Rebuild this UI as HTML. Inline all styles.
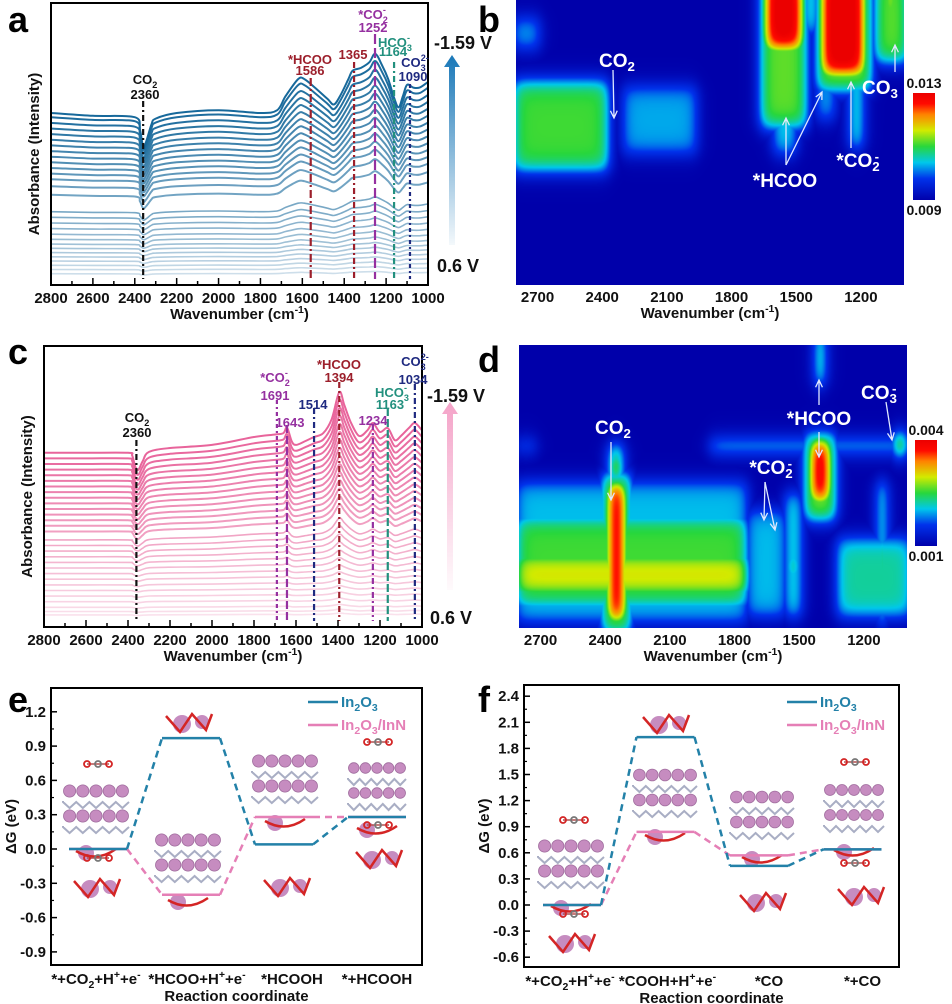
<!DOCTYPE html>
<html><head><meta charset="utf-8">
<style>
html,body{margin:0;padding:0;background:#fff;}
#wrap{position:relative;width:952px;height:1004px;overflow:hidden;font-family:"Liberation Sans",Arial,sans-serif;}
canvas{position:absolute;}
#fig{position:absolute;left:0;top:0;}
</style></head>
<body>
<div id="wrap">
<canvas id="hb" width="388" height="285" style="left:516px;top:0px"></canvas>
<canvas id="hd" width="388" height="283" style="left:519px;top:345px"></canvas>
<svg id="fig" width="952" height="1004" xmlns="http://www.w3.org/2000/svg" font-family="Liberation Sans, Arial, sans-serif" font-weight="bold"></svg>
</div>
<script>
// ---------- DATA ----------
const wnA=[2800,2600,2400,2375,2360,2345,2320,2300,2200,2000,1800,1720,1680,1620,1590,1540,1480,1450,1420,1380,1360,1320,1280,1252,1220,1190,1160,1140,1120,1100,1070,1040,1000];
const shapeA=[0,-1,-1.5,-6,-12,-10,-4,-2,0,1,0,1,6,12,12,9,5,3,6,12,15,16,18,21,17,12,5,2,6,10,9,9,11];
const offsetsA=[61,59.5,57.5,55.5,53.5,51.5,49.5,47.5,45.5,43.5,41.5,39.5,37.5,35,32,26,24,22,20,18,16.2,14.5,13,11.5,10,8.5,7,5.5,4];
const ampsA=[1,.95,.9,.86,.82,.78,.74,.7,.66,.62,.58,.54,.5,.46,.4,.25,.22,.2,.18,.16,.14,.12,.1,.09,.08,.07,.06,.05,.04];
const peakWnA=[2360,1560,1353,1253,1162,1086];
const wnC=[2800,2600,2400,2380,2365,2350,2330,2300,2200,2000,1800,1700,1660,1643,1620,1600,1560,1514,1470,1430,1394,1370,1340,1300,1260,1234,1200,1163,1130,1100,1060,1034,1000];
const shapeC=[0,0,0,-1,-5,-6,-3,0.3,1.7,2.8,5.6,6.5,7,9,4,2.8,4,5.6,7,12,21.6,17,11,6,8,10.6,7.4,8.8,4.5,6,9,10.6,8];
const offsetsC=[62,60,58,56,54,52,50,48,46,44,42,40,38,36,34,31,29,27,25,23,21,19,17,15,13,11,9,7,5.5,4.3];
const ampsC=[1,.96,.92,.88,.84,.8,.76,.72,.68,.64,.6,.56,.52,.48,.44,.36,.32,.28,.24,.2,.17,.14,.12,.1,.08,.07,.06,.05,.04,.03];
const peakWnC=[2360,1691,1643,1514,1394,1234,1163,1034];
// Heatmap features: [wnHigh, wnLow, rowTop, rowBottom, value]
const featB=[[2820,2370,.28,.6,.52],[2820,2690,.06,.17,.33],[2310,1960,.3,.54,.32],[1670,1450,-.1,.45,.55],[1650,1470,-.1,.18,1.05],[1610,1500,-.1,.54,.38],[1470,1400,-.1,.12,.45],[1410,1150,-.1,.32,.58],[1390,1180,-.1,.27,1.05],[1255,1190,-.1,.52,.45],[1410,1320,.25,.42,.34],[1140,980,-.1,.22,.55],[1100,1030,-.1,.08,.75]];
const featD=[[2820,1740,.48,.98,.34],[2820,1740,.6,.93,.52],[2820,1740,.73,.89,.68],[1750,1560,.58,.96,.34],[1570,1490,.52,.96,.42],[1560,1500,.72,.84,.58],[1330,980,.68,.96,.42],[2420,2280,.45,1.02,.58],[2395,2305,.48,.98,1.05],[2385,2320,.35,.51,.58],[2375,2330,.38,.48,.9],[1920,980,.335,.375,.45],[2820,2720,.335,.375,.32],[1480,1330,.31,.62,.58],[1455,1355,.33,.56,1.05],[1425,1385,-.05,.14,.58],[1415,1395,0,.09,.9],[1140,1095,.48,.99,.48],[1128,1105,.68,.87,1.0],[1065,1005,.31,.39,.75]];
const catsE=["*+CO2+H++e-","*HCOO+H++e-","*HCOOH","*+HCOOH"];
const In2O3E=[0.0,0.97,0.04,0.28];
const InNE=[0.0,-0.40,0.28,0.28];
const catsF=["*+CO2+H++e-","*COOH+H++e-","*CO","*+CO"];
const In2O3F=[0.0,1.93,0.45,0.64];
const InNF=[0.0,0.84,0.57,0.64];
const ticksE=[1.2,0.9,0.6,0.3,0.0,-0.3,-0.6,-0.9];
const ticksF=[2.4,2.1,1.8,1.5,1.2,0.9,0.6,0.3,0.0,-0.3,-0.6];
const ticksSpec=[2800,2600,2400,2200,2000,1800,1600,1400,1200,1000];
const ticksHeat=[2700,2400,2100,1800,1500,1200];

// ---------- HELPERS ----------
const NS='http://www.w3.org/2000/svg';
const root=document.getElementById('fig');
function mk(tag,attrs,parent){const e=document.createElementNS(NS,tag);for(const k in attrs)e.setAttribute(k,attrs[k]);(parent||root).appendChild(e);return e;}
function tx(html,attrs,parent){const e=mk('text',attrs,parent);e.innerHTML=html;return e;}
function sub(s){return '<tspan dy="4" font-size="0.7em">'+s+'</tspan><tspan dy="-4">\u200b</tspan>';}
function sup(s){return '<tspan dy="-6" font-size="0.7em">'+s+'</tspan><tspan dy="6">\u200b</tspan>';}
function subsup(a,b){return '<tspan dy="4" font-size="0.7em">'+a+'</tspan><tspan dy="-10" dx="-5" font-size="0.7em">'+b+'</tspan><tspan dy="6">\u200b</tspan>';}
function lerpCol(c1,c2,t){return 'rgb('+c1.map((v,i)=>Math.round(v+(c2[i]-v)*t)).join(',')+')';}
function smoothPath(pts){let d='M'+pts[0][0].toFixed(1)+','+pts[0][1].toFixed(1);for(let i=0;i<pts.length-1;i++){const p0=pts[Math.max(0,i-1)],p1=pts[i],p2=pts[i+1],p3=pts[Math.min(pts.length-1,i+2)];const c1=[p1[0]+(p2[0]-p0[0])/6,p1[1]+(p2[1]-p0[1])/6],c2=[p2[0]-(p3[0]-p1[0])/6,p2[1]-(p3[1]-p1[1])/6];d+='C'+c1[0].toFixed(1)+','+c1[1].toFixed(1)+' '+c2[0].toFixed(1)+','+c2[1].toFixed(1)+' '+p2[0].toFixed(1)+','+p2[1].toFixed(1);}return d;}

[['a',8,32],['b',478,32],['c',8,364],['d',478,372],['e',8,712],['f',478,712]].forEach(p=>{
  const t=tx(p[0],{x:p[1],y:p[2],'font-size':36,fill:'#000'});
  
  
});

// ---------- SPECTRA ----------
function drawSpec(c){
  const g=mk('g',{});
  
  
  const X=wn=>c.x0+(2800-wn)/1800*(c.x1-c.x0);
  const Y=v=>c.y1-v/100*(c.y1-c.y0);
  const N=c.offsets.length;
  for(let k=N-1;k>=0;k--){
    const pts=c.wn.map((w,i)=>[X(w),Y(c.offsets[k]+c.amps[k]*c.shape[i])]);
    const p=mk('path',{d:smoothPath(pts),fill:'none',stroke:lerpCol(c.top,c.bot,k/(N-1)),'stroke-width':k<15?2:1.6},g);
    
    
  }
  c.peaks.forEach((w,i)=>{
    const l=mk('line',{x1:X(w),x2:X(w),y1:c.peakTop[i],y2:c.y1-6,stroke:c.peakCol[i],'stroke-width':2.2,'stroke-dasharray':c.peakDash[i]},g);
    
    
  });
  const fr=mk('rect',{x:c.x0,y:c.y0,width:c.x1-c.x0,height:c.y1-c.y0,fill:'none',stroke:'#000','stroke-width':2},g);
  
  
  for(let w=2800;w>=1000;w-=100){
    const t=mk('line',{x1:X(w),x2:X(w),y1:c.y1,y2:c.y1-(w%200==0?7:4),stroke:'#000','stroke-width':1.5},g);
    
    
  }
  ticksSpec.forEach(w=>{
    const t=tx(String(w),{x:X(w),y:c.y1+18,'text-anchor':'middle','font-size':15,fill:'#111'},g);
    
    
  });
  const xt=tx('Wavenumber (cm'+sup('-1')+')',{x:(c.x0+c.x1)/2,y:c.y1+34,'text-anchor':'middle','font-size':15,fill:'#111'},g);
  
  
  const yt=tx('Absorbance (Intensity)',{x:0,y:0,'text-anchor':'middle','font-size':15,fill:'#111',transform:'translate('+(c.x0-12)+','+((c.y0+c.y1)/2+10)+') rotate(-90)'},g);
  
  
  c.labels.forEach(L=>{
    const t=tx(L[0],{x:L[1],y:L[2],'text-anchor':'middle','font-size':13,fill:L[3]},g);
    
    
  });
  const gid='ar'+c.name;
  const df=mk('defs',{},g);
  const lg=mk('linearGradient',{id:gid,x1:0,y1:1,x2:0,y2:0},df);
  mk('stop',{offset:0,'stop-color':c.arrow,'stop-opacity':0.05},lg);
  mk('stop',{offset:1,'stop-color':c.arrow,'stop-opacity':1},lg);
  const ar=mk('path',{d:'M'+(c.ax-3)+','+c.ay1+'L'+(c.ax-3)+','+(c.ay0+12)+'L'+(c.ax-8)+','+(c.ay0+12)+'L'+c.ax+','+c.ay0+'L'+(c.ax+8)+','+(c.ay0+12)+'L'+(c.ax+3)+','+(c.ay0+12)+'L'+(c.ax+3)+','+c.ay1+'Z',fill:'url(#'+gid+')'},g);
  
  
  const v1=tx('-1.59 V',{x:c.vx,y:c.vy0,'font-size':18,fill:'#111'},g);
  
  
  const v2=tx('0.6 V',{x:c.vx+3,y:c.vy1,'font-size':18,fill:'#111'},g);
  
  
}
const red='#9c1f2b',pur='#9530a0',teal='#22907e',navy='#1f2a80';
drawSpec({name:'panel-a',x0:51,x1:428,y0:3,y1:285,wn:wnA,shape:shapeA,offsets:offsetsA,amps:ampsA,top:[23,105,155],bot:[205,222,234],
 peaks:peakWnA,peakTop:[101,78,62,34,62,84],peakCol:['#111',red,red,pur,teal,navy],peakDash:['6,3,2,3','8,3,2,3','6,3,2,3','10,4','6,3,2,3','4,3,2,3'],
 labels:[['CO'+sub('2'),145,84,'#111'],['2360',145,99,'#111'],['*HCOO',310,64,red],['1586',310,75,red],['1365',353,59,red],['*CO'+subsup('2','-'),373,19,pur],['1252',373,32,pur],['HCO'+subsup('3','-'),395,47,teal],['1164',393,56,teal],['CO'+subsup('3','2-'),415,67,navy],['1090',413,81,navy]],
 arrow:'#1a78b8',ax:452,ay0:55,ay1:245,vx:434,vy0:49,vy1:272});
drawSpec({name:'panel-c',x0:44,x1:422,y0:346,y1:627,wn:wnC,shape:shapeC,offsets:offsetsC,amps:ampsC,top:[232,100,155],bot:[250,225,236],
 peaks:peakWnC,peakTop:[440,400,425,408,382,424,408,384],peakCol:['#111',pur,pur,navy,red,pur,teal,navy],peakDash:['6,3,2,3','4,3,2,3','8,3','6,3,2,3','6,3,2,3','6,3,2,3','8,3','6,3,2,3'],
 labels:[['CO'+sub('2'),137,422,'#111'],['2360',137,437,'#111'],['*CO'+subsup('2','-'),275,382,pur],['1691',275,400,pur],['1643',290,427,pur],['1514',313,409,navy],['*HCOO',339,369,red],['1394',339,382,red],['1234',373,425,pur],['HCO'+subsup('3','-'),392,397,teal],['1163',390,409,teal],['CO'+subsup('3','2-'),415,366,navy],['1034',413,384,navy]],
 arrow:'#f4a3c8',ax:450,ay0:402,ay1:590,vx:427,vy0:402,vy1:624});

// ---------- HEATMAPS ----------
const cmStops=[[0,[0,0,170]],[.2,[0,50,235]],[.35,[0,200,235]],[.5,[40,215,60]],[.65,[210,235,0]],[.8,[255,130,0]],[.9,[255,10,0]],[1,[235,0,0]]];
function cmap(t){t=Math.max(0,Math.min(1,t));for(let i=1;i<cmStops.length;i++){if(t<=cmStops[i][0]){const a=cmStops[i-1],b=cmStops[i],f=(t-a[0])/(b[0]-a[0]);return a[1].map((v,j)=>v+(b[1][j]-v)*f);}}return cmStops[cmStops.length-1][1];}
function sig(z){return 1/(1+Math.exp(-z));}
function drawHeat(id,feat){
  const cv=document.getElementById(id),ctx=cv.getContext('2d'),W=cv.width,H=cv.height;
  const img=ctx.createImageData(W,H);
  const WN=x=>2800-x/W*1800;
  for(let y=0;y<H;y++){const r=y/H;for(let x=0;x<W;x++){const w=WN(x);let v=0;
    for(const f of feat){const s=f[4]*sig((f[0]-w)/18)*sig((w-f[1])/18)*sig((r-f[2])/0.02)*sig((f[3]-r)/0.02);if(s>v)v=s;}
    const c=cmap(v),i=(y*W+x)*4;img.data[i]=c[0];img.data[i+1]=c[1];img.data[i+2]=c[2];img.data[i+3]=255;}}
  ctx.putImageData(img,0,0);
}
drawHeat('hb',featB);drawHeat('hd',featD);
function heatAxes(c){
  const g=mk('g',{});
  
  
  const X=wn=>c.x0+(2800-wn)/1800*(c.x1-c.x0);
  ticksHeat.forEach(w=>{
    const t=tx(String(w),{x:X(w),y:c.y1+17,'text-anchor':'middle','font-size':15,fill:'#111'},g);
    
    
  });
  const xt=tx('Wavenumber (cm'+sup('-1')+')',{x:(c.x0+c.x1)/2,y:c.y1+33,'text-anchor':'middle','font-size':15,fill:'#111'},g);
  
  
  const df=mk('defs',{},g);
  const lg=mk('linearGradient',{id:'cb'+c.name,x1:0,y1:1,x2:0,y2:0},df);
  cmStops.forEach(s=>mk('stop',{offset:s[0],'stop-color':'rgb('+s[1].join(',')+')'},lg));
  const cb=mk('rect',{x:c.cbx,y:c.cby0,width:22,height:c.cby1-c.cby0,fill:'url(#cb'+c.name+')'},g);
  
  
  const t1=tx(c.cbHi,{x:c.cbx+11,y:c.cby0-5,'text-anchor':'middle','font-size':14,fill:'#111'},g);
  
  
  const t2=tx(c.cbLo,{x:c.cbx+11,y:c.cby1+15,'text-anchor':'middle','font-size':14,fill:'#111'},g);
  
  
  c.labels.forEach(L=>{
    const t=tx(L[0],{x:L[1],y:L[2],'text-anchor':'middle','font-size':19,fill:'#fff'},g);
    
    
  });
  c.arrows.forEach(A=>{
    const ang=Math.atan2(A[3]-A[1],A[2]-A[0]);
    const hx=A[2],hy=A[3],a1=ang+2.7,a2=ang-2.7;
    const p=mk('path',{d:'M'+A[0]+','+A[1]+'L'+hx+','+hy+'M'+(hx+8*Math.cos(a1))+','+(hy+8*Math.sin(a1))+'L'+hx+','+hy+'L'+(hx+8*Math.cos(a2))+','+(hy+8*Math.sin(a2)),stroke:'#dfe8ff','stroke-width':1.3,fill:'none'},g);
    
    
  });
}
heatAxes({name:'panel-b',x0:516,x1:904,y1:285,cbx:913,cby0:93,cby1:200,cbHi:'0.013',cbLo:'0.009',
 labels:[['CO'+sub('2'),617,67],['*HCOO',785,187],['*CO'+subsup('2','-'),858,167],['CO'+sub('3'),880,94]],
 arrows:[[613,70,614,118],[786,165,786,118],[786,165,822,92],[851,148,851,82],[895,72,895,45]]});
heatAxes({name:'panel-d',x0:519,x1:907,y1:628,cbx:915,cby0:440,cby1:546,cbHi:'0.004',cbLo:'0.001',
 labels:[['CO'+sub('2'),613,434],['*CO'+subsup('2','-'),771,474],['*HCOO',819,425],['CO'+subsup('3','-'),879,399]],
 arrows:[[611,442,611,500],[765,482,764,520],[765,482,775,530],[819,405,819,380],[819,432,819,457],[886,402,892,440]]});

// ---------- ENERGY DIAGRAMS ----------
function slab(g,cx,yt,w){
  const n=5,r=w/(2*n)-0.5;
  for(let row=0;row<2;row++){
    const yy=yt+row*25;
    const m=mk('path',{d:'M'+(cx-w/2)+','+(yy+10)+' '+Array.from({length:n*2+1},(_,i)=>'L'+(cx-w/2+i*w/(2*n))+','+(yy+(i%2?17:11))).join(' '),stroke:'#a9aec4','stroke-width':2,fill:'none'},g);
    
    
    for(let i=0;i<n;i++){
      const c=mk('circle',{cx:cx-w/2+r+0.5+i*(2*r+1),cy:yy,r:r,fill:'#c68cc0',stroke:'#a06d9e','stroke-width':0.8},g);
      
      
    }
  }
  const b=mk('circle',{cx:cx-10,cy:yt+62,r:8,fill:'#c68cc0'},g);
  
  
  const rd=mk('path',{d:'M'+(cx-20)+','+(yt+60)+'Q'+cx+','+(yt+72)+' '+(cx+20)+','+(yt+58),stroke:'#d42525','stroke-width':2.5,fill:'none'},g);
  
  
}
function cluster(g,cx,cy){
  const a=mk('circle',{cx:cx-6,cy:cy,r:9,fill:'#c68cc0'},g);
  
  
  const b=mk('circle',{cx:cx+14,cy:cy-2,r:7,fill:'#c68cc0'},g);
  
  
  const rd=mk('path',{d:'M'+(cx-22)+','+(cy-8)+'L'+(cx-8)+','+(cy+8)+'L'+(cx+4)+','+(cy-10)+'L'+(cx+18)+','+(cy+6)+'L'+(cx+24)+','+(cy-10),stroke:'#d42525','stroke-width':2.5,fill:'none'},g);
  
  
}
function mol(g,cx,cy){
  const l=mk('line',{x1:cx-11,x2:cx+11,y1:cy,y2:cy,stroke:'#b05050','stroke-width':1.5},g);
  
  
  [[-11,'#d42525'],[0,'#777'],[11,'#d42525']].forEach(p=>{
    const c=mk('circle',{cx:cx+p[0],cy:cy,r:3,fill:'none',stroke:p[1],'stroke-width':1.8},g);
    
    
  });
}
function drawEnergy(c){
  const g=mk('g',{});
  
  
  const X=i=>c.cx0+i*c.dx;
  const Y=v=>c.yz-v/0.3*c.dy;
  c.slabs.forEach(s=>slab(g,s[0],s[1],s[2]));
  c.clusters.forEach(s=>cluster(g,s[0],s[1]));
  c.mols.forEach(s=>mol(g,s[0],s[1]));
  [[c.s2,'#e57fb6','In2O3/InN'],[c.s1,'#2381a8','In2O3']].forEach(S=>{
    const vals=S[0];
    vals.forEach((v,i)=>{
      const l=mk('line',{x1:X(i)-c.hw,x2:X(i)+c.hw,y1:Y(v),y2:Y(v),stroke:S[1],'stroke-width':2.5},g);
      
      
      if(i<vals.length-1){
        const d=mk('line',{x1:X(i)+c.hw,x2:X(i+1)-c.hw,y1:Y(v),y2:Y(vals[i+1]),stroke:S[1],'stroke-width':2.5,'stroke-dasharray':'7,5'},g);
        
        
      }
    });
  });
  const fr=mk('rect',{x:c.x0,y:c.y0,width:c.x1-c.x0,height:c.y1-c.y0,fill:'none',stroke:'#000','stroke-width':2},g);
  
  
  c.ticks.forEach((v,i)=>{
    const t=mk('line',{x1:c.x0,x2:c.x0+6,y1:Y(v),y2:Y(v),stroke:'#000','stroke-width':1.5},g);
    
    
    if(Y(v-0.15)<c.y1-2){
      const m=mk('line',{x1:c.x0,x2:c.x0+3,y1:Y(v-0.15),y2:Y(v-0.15),stroke:'#000','stroke-width':1.2},g);
      
      
    }
    const l=tx(v.toFixed(1),{x:c.x0-5,y:Y(v)+5,'text-anchor':'end','font-size':15,fill:'#111'},g);
    
    
  });
  const yt=tx('\u0394G (eV)',{x:0,y:0,'text-anchor':'middle','font-size':15,fill:'#111',transform:'translate('+(c.x0-35)+','+((c.y0+c.y1)/2)+') rotate(-90)'},g);
  
  
  c.cats.forEach((s,i)=>{
    const h=s.replace('CO2','CO'+sub('2')).replace('H++','H'+sup('+')+'+').replace(/e-$/,'e'+sup('-'));
    const t=tx(h,{x:X(i)+c.labOff[i],y:c.y1+19,'text-anchor':'middle','font-size':15,fill:'#111'},g);
    
    
  });
  const xt=tx('Reaction coordinate',{x:(c.x0+c.x1)/2,y:c.y1+36,'text-anchor':'middle','font-size':15,fill:'#111'},g);
  
  
  [['#2381a8','In'+sub('2')+'O'+sub('3'),0],['#e57fb6','In'+sub('2')+'O'+sub('3')+'/InN',23]].forEach(L=>{
    const l=mk('line',{x1:c.lx,x2:c.lx+30,y1:c.ly+L[2],y2:c.ly+L[2],stroke:L[0],'stroke-width':2.5},g);
    
    
    const t=tx(L[1],{x:c.lx+33,y:c.ly+L[2]+5,'font-size':15,fill:L[0]},g);
    
    
  });
}
drawEnergy({name:'panel-e',x0:51,x1:422,y0:688,y1:965,yz:849,dy:34.3,cx0:98,dx:93,hw:29,s1:In2O3E,s2:InNE,cats:catsE,ticks:ticksE,labOff:[-2,6,8,0],lx:308,ly:702,
 slabs:[[96,791,66],[188,840,66],[285,761,66],[377,768,58]],clusters:[[96,889],[188,724],[286,888],[378,860]],mols:[[98,764],[98,858],[378,742],[378,825]]});
drawEnergy({name:'panel-f',x0:524,x1:899,y0:685,y1:967,yz:905,dy:26.1,cx0:572,dx:93.5,hw:29,s1:In2O3F,s2:InNF,cats:catsF,ticks:ticksF,labOff:[-2,2,10,10],lx:787,ly:702,
 slabs:[[571,846,66],[665,775,64],[762,797,64],[854,790,60]],clusters:[[571,944],[665,725],[762,903],[860,897]],mols:[[574,820],[574,914],[855,762],[855,863]]});
</script>
</body></html>
